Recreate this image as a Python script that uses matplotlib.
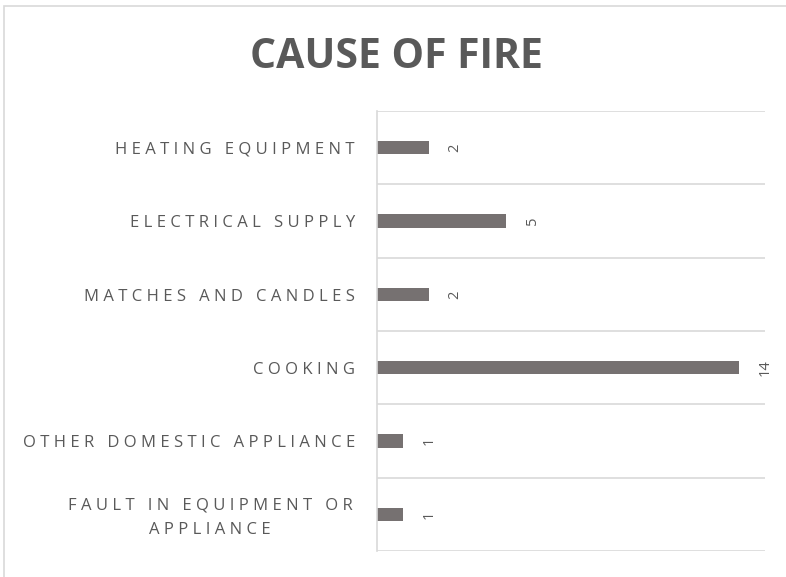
import matplotlib.pyplot as plt
from matplotlib.patches import Rectangle

# data (top to bottom as in the chart)
causes = ['HEATING EQUIPMENT', 'ELECTRICAL SUPPLY', 'MATCHES AND CANDLES',
          'COOKING', 'OTHER DOMESTIC APPLIANCE', 'FAULT IN EQUIPMENT OR\nAPPLIANCE']
counts = [2, 5, 2, 14, 1, 1]

bar_col = '#767171'
txt_col = '#595959'
grid_col = '#d9d9d9'

plt.rcParams['font.family'] = ['Open Sans', 'DejaVu Sans']


def spaced(s):
    # imitate the wide letter spacing of the original with thin + hair spaces
    return '\n'.join('\u2009\u200a'.join(line) for line in s.split('\n'))


fig = plt.figure(figsize=(7.86, 5.77), dpi=100)

# outer chart frame (cut off at right and bottom like the source)
fig.patches.append(Rectangle((4 / 786, -0.05), 1.2, 1 - 6 / 577 + 0.05,
                             transform=fig.transFigure, fill=False,
                             edgecolor=grid_col, lw=1.2))

ax = fig.add_axes([377 / 786, 1 - 551 / 577, (765 - 377) / 786, (551 - 111) / 577])

y = list(range(len(causes)))
ax.barh(y, counts, height=0.18, color=bar_col)
ax.set_ylim(len(causes) - 0.5, -0.5)
ax.set_xlim(0, 15)

# horizontal separators between categories
for b in range(len(causes) + 1):
    ax.axhline(b - 0.5, color=grid_col, lw=1.2, zorder=0)

for s in ['top', 'right', 'bottom']:
    ax.spines[s].set_visible(False)
ax.spines['left'].set_color(grid_col)
ax.spines['left'].set_linewidth(1.2)
ax.set_xticks([])
ax.set_yticks([])

# category labels
tr = ax.get_yaxis_transform()
for yi, c in zip(y, causes):
    if '\n' in c:
        ax.text(-0.43, yi + 0.05, spaced(c), transform=tr, ha='center', va='center',
                multialignment='center', fontsize=12, color=txt_col,
                linespacing=1.75)
    else:
        ax.text(-0.057, yi + 0.03, spaced(c), transform=tr, ha='right', va='center',
                fontsize=12, color=txt_col)

# value labels
for yi, v in zip(y, counts):
    ax.text(v + 1.0, yi, str(v), rotation=90, va='center', ha='center',
            fontsize=10.5, color=txt_col)

fig.text(0.504, 0.900, 'CAUSE OF FIRE', ha='center', va='center',
         fontsize=29.5, fontweight='bold', color=txt_col)

fig.savefig('out.png', dpi=100)
